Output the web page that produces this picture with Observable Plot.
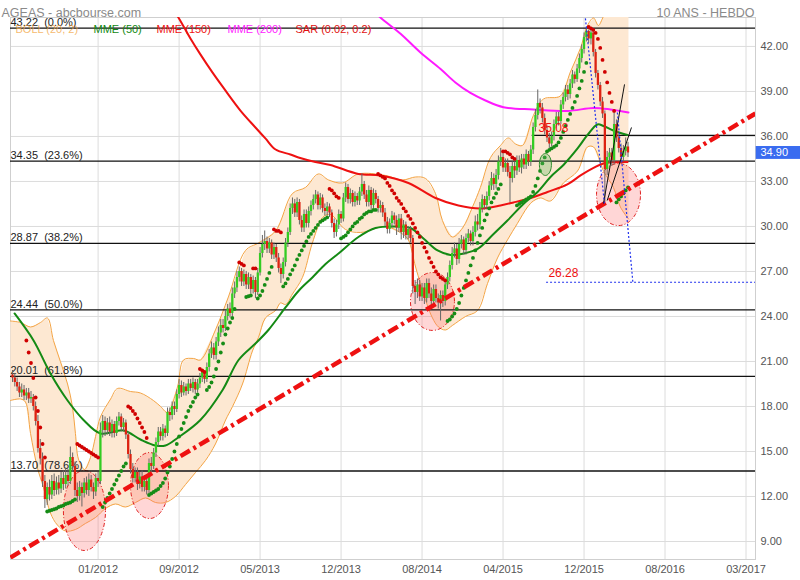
<!DOCTYPE html>
<html><head><meta charset="utf-8">
<script src="https://cdn.jsdelivr.net/npm/d3@7"></script>
<script src="https://cdn.jsdelivr.net/npm/@observablehq/plot@0.6"></script>
<style>
html,body{margin:0;padding:0;background:#fff;}
#chart{width:800px;height:580px;overflow:hidden;}
svg text{white-space:pre;}
</style></head><body><div id="chart"></div>
<script>
// ---------- DATA ----------
const title = "AGEAS - abcbourse.com";
const subtitle = "10 ANS - HEBDO";
const firstOpen = 20.1;
const closes = [
19.9,19.6,19.3,18.9,19.1,18.7,18.9,18.5,18.6,18.0,
17.0,15.2,14.5,13.0,11.8,12.6,12.1,13.0,12.4,12.9,
12.5,13.2,12.8,13.4,13.0,14.6,14.0,12.4,12.0,12.6,
12.2,12.9,12.4,13.1,12.6,12.3,13.2,13.0,16.4,17.0,
16.4,16.9,16.3,16.8,16.2,17.0,17.3,16.6,16.9,16.1,
14.8,13.8,13.2,13.6,12.8,13.3,12.6,13.0,12.4,14.2,
14.0,14.9,15.6,16.3,16.0,16.5,16.2,17.6,17.4,18.0,
17.8,18.8,19.4,18.9,19.3,19.0,19.5,19.2,19.6,19.1,
19.5,19.9,20.3,19.8,20.6,21.5,21.9,21.4,22.3,22.9,
23.4,23.2,24.0,24.5,24.2,25.5,25.9,26.6,27.0,26.3,
26.8,26.1,26.6,25.8,26.4,25.6,26.9,28.2,28.8,29.0,
28.5,28.9,28.1,28.6,27.9,27.2,26.8,27.6,28.9,29.6,
31.2,31.5,30.9,31.6,30.4,29.9,30.8,30.2,31.0,31.4,
31.8,32.1,31.4,31.9,31.2,31.0,31.3,30.9,30.2,29.6,
30.1,30.8,30.5,31.9,32.6,31.8,32.2,31.6,32.0,31.7,
32.3,32.8,32.1,31.6,32.4,31.4,32.2,31.8,31.2,31.4,
30.9,30.3,29.8,30.2,30.7,30.4,29.9,30.5,29.6,30.1,
29.4,29.8,29.2,26.0,25.6,26.1,25.3,25.9,25.2,26.2,
25.5,25.0,25.8,25.2,24.9,25.4,25.0,26.1,26.6,27.4,
28.2,28.5,27.8,28.8,29.1,28.4,29.2,29.5,29.0,29.6,
30.3,30.1,31.2,31.8,31.4,32.0,32.7,33.2,32.8,33.4,
34.3,34.6,33.9,34.2,33.6,33.2,34.0,33.7,34.4,33.9,
34.5,34.1,34.8,34.3,35.1,36.6,37.4,38.2,37.9,37.2,
36.4,35.9,35.5,36.0,36.8,37.3,37.0,38.1,38.6,39.1,
38.8,39.5,40.1,39.8,40.5,41.2,41.8,42.6,43.0,42.5,
42.9,41.6,40.2,39.4,38.3,37.5,33.8,34.6,34.9,34.4,
36.8,35.9,35.2,34.6,35.0,35.3,34.9];
const highs = [
20.4,20.2,19.9,19.6,19.5,19.4,19.2,19.2,19.0,18.8,
18.3,17.4,15.8,14.9,13.4,12.9,13.1,13.4,13.5,13.3,
13.4,13.6,13.7,13.9,13.8,15.3,14.9,14.3,12.9,13.0,
12.9,13.2,13.3,13.5,13.4,12.9,13.5,13.6,16.9,17.4,
17.3,17.2,17.3,17.1,17.0,17.3,17.6,17.5,17.2,17.1,
16.3,15.1,14.2,13.9,13.9,13.6,13.7,13.4,13.3,14.5,
14.6,15.2,15.9,16.6,16.6,16.8,16.7,17.9,17.9,18.3,
18.3,19.1,19.8,19.7,19.6,19.5,19.8,19.8,19.9,19.8,
19.8,20.2,20.4,20.2,20.9,21.8,22.3,22.2,22.6,23.3,
23.8,23.8,24.4,24.8,24.9,25.9,26.3,27.0,27.3,27.2,
27.1,27.0,26.9,26.8,26.7,26.6,27.2,28.6,29.4,29.7,
29.3,29.2,29.1,28.9,28.8,28.2,27.5,27.9,29.2,29.9,
31.5,31.9,31.8,31.9,31.8,30.7,31.1,31.1,31.3,31.7,
32.1,32.4,32.3,32.2,32.1,31.5,31.6,31.5,31.1,30.5,
30.4,31.1,31.0,32.2,32.9,32.8,32.5,32.4,32.3,32.2,
32.6,33.5,33.0,32.4,32.7,32.6,32.5,32.4,32.0,31.7,
31.6,31.2,30.6,30.5,31.0,30.9,30.7,30.8,30.8,30.4,
30.3,30.0,30.0,29.4,26.4,26.5,26.4,26.2,26.2,26.5,
26.5,25.9,26.1,26.1,25.5,25.7,25.7,26.3,26.9,27.7,
28.6,28.9,28.8,29.2,29.4,29.3,29.5,29.8,29.7,30.0,
30.7,30.8,31.6,32.1,32.0,32.3,33.0,33.6,33.5,33.8,
34.7,35.2,34.9,34.5,34.5,34.0,34.3,34.3,34.7,34.7,
34.8,34.8,35.1,35.0,35.4,36.9,37.8,39.1,38.5,38.2,
37.5,36.7,36.2,36.3,37.1,37.6,37.6,38.4,38.9,39.4,
39.4,39.8,40.4,40.3,40.8,41.5,42.1,42.9,43.22,43.1,
43.1,43.0,41.8,40.4,39.6,38.6,37.7,35.0,35.2,35.2,
37.6,37.1,36.1,35.5,35.4,35.9,35.6];
const lows = [
19.6,19.3,19.0,18.6,18.6,18.4,18.4,18.2,18.2,17.7,
16.7,14.9,14.1,12.6,11.2,11.4,11.7,11.8,12.0,12.1,
12.1,12.2,12.4,12.5,12.7,12.8,13.6,12.0,11.6,11.7,
11.3,11.9,12.1,12.0,12.3,11.8,12.0,12.6,12.8,15.9,
16.0,16.1,16.0,15.9,15.9,16.0,16.7,16.3,16.3,15.8,
14.5,13.5,12.9,12.9,12.4,12.5,12.3,12.3,12.1,12.2,
13.6,13.8,14.6,15.3,15.7,15.7,15.9,16.0,17.0,17.1,
17.4,17.6,18.5,18.6,18.7,18.7,18.8,19.0,18.9,18.8,
18.9,19.2,19.6,19.5,19.6,20.3,21.2,21.1,21.1,22.0,
22.6,22.9,23.0,23.7,23.9,24.0,25.2,25.6,26.3,26.0,
26.0,25.8,25.8,25.5,25.5,25.2,25.4,26.7,27.9,28.4,
28.2,28.2,27.8,27.8,27.6,26.9,26.2,26.5,27.3,28.6,
29.4,30.8,30.6,30.6,30.1,29.6,29.6,29.9,29.9,30.7,
31.1,31.5,31.1,31.1,30.9,30.7,30.7,30.6,29.9,29.2,
29.3,29.8,30.2,30.3,31.6,31.5,31.5,31.3,31.3,31.4,
31.4,32.0,31.8,31.3,31.3,31.1,31.2,31.5,30.9,30.9,
30.6,30.0,29.5,29.5,29.9,30.1,29.4,29.6,29.1,29.2,
29.1,29.1,28.9,25.5,24.8,25.2,25.0,25.0,24.8,24.9,
25.2,24.6,24.7,24.9,24.5,23.7,24.6,24.7,25.8,26.3,
27.1,27.9,27.4,27.5,28.5,28.1,28.1,28.9,28.7,28.7,
29.3,29.7,29.8,30.9,31.1,31.1,31.7,32.4,32.4,32.5,
33.1,34.0,33.6,33.6,33.3,31.6,32.9,33.2,33.4,33.6,
33.5,33.8,33.8,34.0,34.0,34.8,36.3,37.1,37.5,36.9,
36.1,35.6,35.2,35.3,35.7,36.5,36.7,36.8,37.8,38.3,
38.4,38.5,39.2,39.5,39.6,40.2,40.9,41.5,42.3,42.2,
42.1,41.3,39.9,39.1,38.0,37.2,31.6,33.4,34.2,34.0,
34.1,35.6,34.9,34.2,34.3,34.7,34.6];
const sar = [
null,null,null,null,null,null,
22.4,21.6,20.9,19.9,18.6,17.7,16.6,15.5,14.6,
11.0,11.05,11.1,11.15,11.2,11.3,11.35,11.4,11.5,11.55,11.6,11.7,11.8,
15.5,15.4,15.3,15.2,15.1,15.0,14.9,14.8,14.7,14.6,
null,
11.3,11.6,11.9,12.2,12.5,12.8,13.1,13.4,13.7,14.0,14.2,
18.0,17.9,17.7,17.5,17.2,16.9,16.6,16.3,15.9,
12.1,12.2,12.3,12.4,12.5,12.7,12.9,13.2,13.6,14.0,14.5,15.0,15.5,16.0,16.5,16.9,17.3,17.7,18.0,18.3,18.6,18.8,
20.5,20.4,20.3,
19.1,19.3,19.6,20.0,20.5,21.0,21.6,22.2,22.8,23.2,23.6,23.9,24.5,
null,
27.6,27.5,27.4,
25.3,25.35,25.4,
27.2,27.2,
25.2,25.4,25.7,26.1,26.5,26.9,27.3,
29.8,29.7,29.7,29.6,
26.0,26.2,26.5,26.8,27.1,27.4,27.8,28.1,28.4,28.7,29.0,29.3,29.5,29.7,29.9,30.1,30.3,30.4,30.5,30.6,
32.5,32.4,32.2,32.0,31.9,
29.2,29.3,29.4,29.6,29.8,30.0,30.2,30.3,30.5,30.6,30.8,30.9,31.0,31.0,31.1,31.1,
33.5,33.4,33.3,33.2,32.9,32.7,32.4,32.2,31.9,31.7,31.5,31.2,31.0,30.7,30.5,30.2,29.9,29.6,29.3,28.9,28.6,28.3,27.9,27.6,27.3,27.0,26.8,26.6,26.5,26.4,
23.7,23.8,24.0,24.2,24.5,24.9,25.4,25.9,26.4,26.9,27.4,27.9,28.4,28.9,29.4,29.9,30.4,30.8,31.2,31.6,31.9,32.2,32.5,32.8,
35.0,35.0,34.9,34.8,34.6,34.5,
31.4,31.5,31.6,31.7,31.8,31.9,32.0,32.3,32.7,33.2,33.7,34.2,34.6,35.0,35.1,35.2,35.3,35.4,35.6,35.9,36.3,36.7,37.1,37.5,37.9,38.3,38.7,39.2,39.7,40.3,40.9,
43.3,43.2,43.1,42.9,42.5,41.9,41.1,40.3,39.6,38.9,38.3,37.7,
31.6,31.8,32.0,32.2,32.4,32.6];

// Bollinger (20,2) read at sampled bars
const bollUpIdx = [-0.9,3.5,7.8,12.1,15.1,17.7,20.7,23.8,25.9,27.2,28.5,31.1,33.7,35.9,38.0,42.4,45.4,51.0,55.3,60.9,64.0,67.0,71.3,73.9,78.2,81.2,87.7,93.3,100.7,106.3,113.7,121.0,126.6,132.2,136.6,142.6,149.5,161.2,168.5,174.2,178.5,182.8,185.8,190.1,194.5,198.8,202.2,206.6,210.9,214.3,217.4,220.4,225.1,229.5,236.8,241.1,245.5,248.5,251.1,253.2,255.4,259.3,262.7,266.2];
const bollUp = [23.7,23.6,23.3,23.6,23.9,22.4,21.0,19.5,18.0,16.2,14.5,13.8,14.6,16.0,17.3,18.5,19.2,19.0,18.9,18.4,18.0,17.6,19.3,21.1,21.2,21.1,23.1,25.3,28.4,28.9,29.7,32.2,32.6,33.5,33.1,32.9,33.5,33.4,33.1,33.3,33.2,32.2,30.4,29.3,29.9,31.3,32.6,34.6,35.4,35.9,35.5,35.4,37.4,38.5,38.7,40.3,41.9,43.4,43.9,43.4,44.0,45.0,45.5,45.5];
const bollLoIdx = [-0.9,3.5,5.6,7.8,10.8,13.4,16.4,19.4,22.9,27.2,31.5,35.9,40.2,44.5,48.8,53.2,57.5,61.8,66.1,70.4,74.8,79.1,83.4,87.7,92.1,95.1,99.4,103.7,106.3,109.3,113.7,115.8,118.0,121.0,125.3,129.6,134.0,137.4,143.9,150.4,161.2,168.5,171.1,174.2,178.5,181.5,184.1,187.1,190.1,195.8,201.0,205.3,209.6,213.9,218.2,222.6,225.1,228.2,232.5,238.1,244.2,248.5,251.1,255.4,259.7,262.7,266.2];
const bollLo = [18.4,18.5,18.3,16.2,13.9,12.6,10.9,10.1,9.7,9.8,10.2,10.6,11.2,11.5,11.3,11.6,11.9,11.6,11.6,12.0,12.8,13.6,14.4,15.5,17.1,18.0,19.5,21.7,22.6,23.9,24.4,24.9,24.8,25.5,26.6,28.9,30.6,30.8,29.8,29.6,30.0,29.5,29.1,27.3,25.1,23.9,23.3,23.1,23.4,24.0,24.4,26.2,27.9,29.1,30.2,31.3,31.7,31.9,31.7,32.9,33.7,35.3,35.3,33.7,32.6,31.3,30.5];

// Moving averages read at sampled bars
const mme50Idx = [0.9,9.1,16.4,23.8,30.7,38.0,48.0,55.3,61.8,66.1,71.3,81.2,90.8,97.7,105.0,110.6,118.0,123.6,129.6,135.3,140.9,149.5,156.9,165.5,172.0,177.6,183.7,189.3,194.9,201.0,207.9,213.9,220.8,226.9,232.5,238.1,244.2,248.5,252.8,255.4,259.7,265.8];
const mme50 = [24.2,22.4,20.2,18.4,17.1,16.2,16.4,15.8,15.4,15.4,15.9,17.1,19.1,21.1,22.2,23.1,24.6,25.7,26.6,27.5,28.2,29.3,29.9,30.0,29.9,29.2,28.4,28.1,28.2,28.5,29.5,30.4,31.5,32.3,33.3,34.1,35.2,36.1,36.8,36.7,36.4,36.1];
const mme150Idx = [66.0,71.7,76.9,81.2,86.4,92.0,98.5,105.0,109.3,113.7,120.1,123.6,130.9,137.4,149.5,159.0,171.1,182.8,192.7,202.2,210.9,216.5,223.9,231.2,239.8,245.5,251.1,255.4,265.8];
const mme150 = [45.3,43.93,42.53,41.47,40.27,39.07,37.73,36.6,35.87,35.13,34.8,34.6,34.3,34.1,33.5,33.4,32.9,31.9,31.4,31.2,31.4,31.6,31.9,32.3,32.8,33.4,33.9,34.2,34.3];
const mme200Idx = [154.7,159.0,167.7,176.3,185.0,191.4,197.9,204.4,212.2,225.1,239.8,251.1,258.4,266.2];
const mme200 = [44.6,43.93,42.85,41.6,40.5,39.6,38.9,38.4,37.95,37.8,37.7,37.9,37.8,37.6];

// Fibonacci retracement
const fibLevels = [43.22, 34.35, 28.87, 24.44, 20.01, 13.70];
const fibPct = ["0.0%", "23.6%", "38.2%", "50.0%", "61.8%", "78.6%"];

// axes
const tickIdx = [37, 72, 107, 142, 177, 212, 247, 282, 317];
const tickLabels = ["01/2012","09/2012","05/2013","12/2013","08/2014","04/2015","12/2015","08/2016","03/2017"];
const yTicks = [9, 12, 15, 18, 21, 24, 27, 30, 33, 36, 39, 42];
const xDomain = [-0.86, 321.1];
const yDomain = [7.8, 43.93];

// drawn annotations (in bar index / price units)
const trendX = [-0.9, 321.1], trendY = [7.93, 37.53];
const ellCx = [31.1, 59.2, 181.5, 261.9], ellCy = [11.07, 12.73, 25.0, 32.13];
const ellRx = [9.1, 8.2, 9.5, 9.5], ellRy = [2.67, 2.2, 1.93, 2.07];
const greenEll = {cx: 230.3, cy: 34.13, rx: 2.6, ry: 0.73};
const chX1 = [255.4, 257.0], chY1 = [31.53, 31.73], chX2 = [264.5, 267.5], chY2 = [39.47, 36.6];
const blueX1 = [247.6, 261.4], blueY1 = [43.87, 37.6], blueX2 = [255.8, 268.1], blueY2 = [31.53, 26.28];
const target = 26.28, targetFrom = 230.8;
const resLevel = 36.07, resFrom = 224.6, resLabel = "35.08";
const lastClose = 34.90;
const legendItems = ["BOLL (20, 2)", "MME (50)", "MME (150)", "MME (200)", "SAR (0.02, 0.2)"];
const legendColors = ["#f2a23a", "#118811", "#ee1111", "#ff22ff", "#e01010"];

// ---------- CHECKS ----------
if (closes.length !== highs.length || closes.length !== lows.length || closes.length !== sar.length)
  throw new Error(`len mismatch c${closes.length} h${highs.length} l${lows.length} s${sar.length}`);
if (bollUp.length !== bollUpIdx.length || bollLo.length !== bollLoIdx.length) throw new Error("boll len");
if (mme50.length !== mme50Idx.length || mme150.length !== mme150Idx.length || mme200.length !== mme200Idx.length) throw new Error("mme len");

// ---------- TABLES ----------
const bars = closes.map((c, i) => ({i, o: i === 0 ? firstOpen : closes[i - 1], h: highs[i], l: lows[i], c}));
const sarPts = sar.map((s, i) => ({i, s, up: s != null && s < closes[i]})).filter(d => d.s != null);
const upPts = bollUpIdx.map((x, k) => ({x, y: bollUp[k]}));
const loPts = bollLoIdx.map((x, k) => ({x, y: bollLo[k]}));
const bandPoly = upPts.concat(loPts.slice().reverse());
const line = (xs, ys) => xs.map((x, k) => ({x, y: ys[k]}));
const ellPts = ellCx.flatMap((cx, k) => d3.range(72).map(t => {
  const a = 2 * Math.PI * t / 72;
  return {k, x: cx + ellRx[k] * Math.cos(a), y: ellCy[k] + ellRy[k] * Math.sin(a)};
}));
const gEllPts = d3.range(48).map(t => {
  const a = 2 * Math.PI * t / 48;
  return {x: greenEll.cx + greenEll.rx * Math.cos(a), y: greenEll.cy + greenEll.ry * Math.sin(a)};
});
const labelByIdx = new Map(tickIdx.map((d, k) => [d, tickLabels[k]]));
const legendDx = [5, 83, 146, 217, 285];

const font = "'Liberation Sans', Arial, sans-serif";

const marks = [
  Plot.gridY(yTicks, {stroke: "#dcdcdc", strokeOpacity: 1}),
  Plot.gridX(tickIdx, {stroke: "#dcdcdc", strokeOpacity: 1}),
  Plot.frame({stroke: "#cfcfcf"}),
  // Bollinger band
  Plot.line(bandPoly, {x: "x", y: "y", fill: "#fde8d2", stroke: "none", curve: "linear-closed", clip: true}),
  Plot.line(upPts, {x: "x", y: "y", stroke: "#f4a444", strokeWidth: 1, curve: "catmull-rom", clip: true}),
  Plot.line(loPts, {x: "x", y: "y", stroke: "#f4a444", strokeWidth: 1, curve: "catmull-rom", clip: true}),
  // red ellipses
  Plot.line(ellPts, {x: "x", y: "y", z: "k", fill: "#f77", fillOpacity: 0.3, stroke: "#e02020", strokeWidth: 1, strokeDasharray: "4,2,1,2", strokeLinecap: "butt", curve: "linear-closed"}),
  // fibonacci
  Plot.ruleY(fibLevels, {stroke: "#111", strokeWidth: 1.3}),
  Plot.text(fibLevels, {y: d => d, frameAnchor: "left", text: (d, k) => `${d.toFixed(2)}  (${fibPct[k]})`, textAnchor: "start", dy: -5.5, fill: "#222", fontSize: 11}),
  Plot.ruleY([resLevel], {x1: resFrom, x2: xDomain[1], stroke: "#111", strokeWidth: 1.3}),
  // moving averages
  Plot.line(line(mme200Idx, mme200), {x: "x", y: "y", stroke: "#ff1aff", strokeWidth: 2, curve: "catmull-rom", clip: true}),
  Plot.line(line(mme150Idx, mme150), {x: "x", y: "y", stroke: "#ee1111", strokeWidth: 2, curve: "catmull-rom", clip: true}),
  Plot.line(line(mme50Idx, mme50), {x: "x", y: "y", stroke: "#148a14", strokeWidth: 2, curve: "catmull-rom", clip: true}),
  // candles
  Plot.ruleX(bars, {x: "i", y1: "l", y2: "h", stroke: "#666", strokeWidth: 1}),
  Plot.ruleX(bars, {x: "i", y1: "o", y2: "c", stroke: d => d.c >= d.o ? "#33cc22" : "#dd2211", strokeWidth: 2.3, strokeLinecap: "butt"}),
  // SAR
  Plot.dot(sarPts, {x: "i", y: "s", r: 1.9, fill: d => d.up ? "#168c16" : "#d00000", stroke: "none"}),
  // green ellipse
  Plot.line(gEllPts, {x: "x", y: "y", fill: "#6b6", fillOpacity: 0.35, stroke: "#2a8a2a", strokeWidth: 1, curve: "linear-closed"}),
  // trendline (dash-dot)
  Plot.line(line(trendX, trendY), {x: "x", y: "y", stroke: "#ee1111", strokeWidth: 4.5, strokeDasharray: "11,4,3,4", strokeLinecap: "butt", clip: true}),
  // channel lines
  Plot.link(chX1.map((x, k) => k), {x1: k => chX1[k], y1: k => chY1[k], x2: k => chX2[k], y2: k => chY2[k], stroke: "#111", strokeWidth: 1}),
  // blue projections
  Plot.link(blueX1.map((x, k) => k), {x1: k => blueX1[k], y1: k => blueY1[k], x2: k => blueX2[k], y2: k => blueY2[k], stroke: "#2233ee", strokeWidth: 1.2, strokeDasharray: "2,2", strokeLinecap: "butt"}),
  Plot.ruleY([target], {x1: targetFrom, x2: xDomain[1], stroke: "#2233ee", strokeWidth: 1.2, strokeDasharray: "2,2", strokeLinecap: "butt"}),
  Plot.text([target], {x: targetFrom + 0.8, y: d => d, text: d => d.toFixed(2), textAnchor: "start", dy: -9, fill: "#ee1111", fontSize: 12}),
  Plot.text([resLabel], {x: resFrom + 2.7, y: resLevel, text: d => d, textAnchor: "start", dy: -7, fill: "#ee1111", fontSize: 12}),
  // legend
  ...legendItems.map((t, k) => Plot.text([t], {frameAnchor: "top-left", dx: legendDx[k], dy: 8, text: d => d, textAnchor: "start", fill: legendColors[k], fillOpacity: k === 0 ? 0.75 : 1, fontSize: 11})),
  // titles
  Plot.text([title], {frameAnchor: "top-left", dx: -9, dy: -9, text: d => d, textAnchor: "start", fill: "#8a8a8a", fontSize: 12.5}),
  Plot.text([subtitle], {frameAnchor: "top-right", dx: -1, dy: -9, text: d => d, textAnchor: "end", fill: "#8a8a8a", fontSize: 12.5}),
  // axes
  Plot.axisY(yTicks, {anchor: "right", tickSize: 0, tickPadding: 5, tickFormat: d => d.toFixed(2), color: "#555", fontSize: 11, label: null}),
  Plot.axisX(tickIdx, {anchor: "bottom", tickSize: 0, tickPadding: 6, tickFormat: d => labelByIdx.get(d), color: "#555", fontSize: 11, label: null}),
  // last price tag
  Plot.rect([lastClose], {x1: xDomain[1] + 0.3, x2: xDomain[1] + 20, y1: d => d - 0.43, y2: d => d + 0.43, fill: "#3a6cf0"}),
  Plot.text([lastClose], {x: xDomain[1], y: d => d, text: d => d.toFixed(2), textAnchor: "start", dx: 5, fill: "#fff", fontSize: 11})
];

const chart = Plot.plot({
  width: 800, height: 580,
  marginLeft: 10, marginRight: 45, marginTop: 17, marginBottom: 21,
  x: {domain: xDomain, axis: null},
  y: {domain: yDomain, axis: null},
  style: {fontFamily: font, background: "#fff", overflow: "visible"},
  marks
});
document.getElementById("chart").appendChild(chart);
</script></body></html>
